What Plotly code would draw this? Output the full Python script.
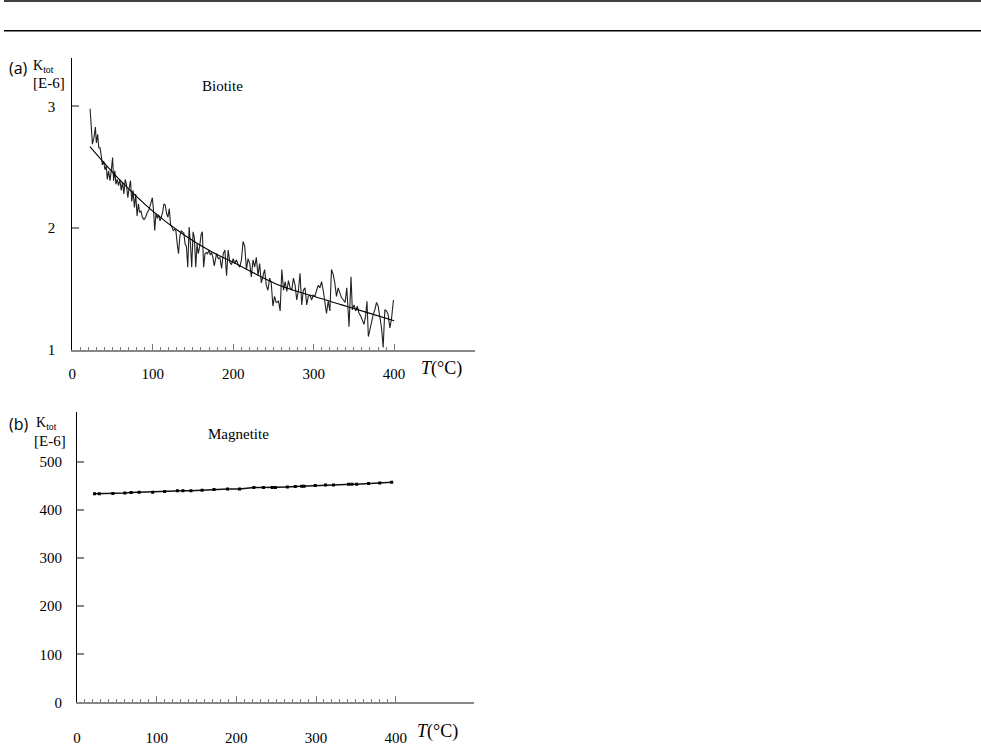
import plotly.graph_objects as go

W, H = 981, 748

# ---------------- data ----------------
biotite_T = [22.2, 23.9, 25.1, 27.2, 28.8, 30.0, 31.6, 33.0, 34.6, 36.2, 37.4, 39.1, 40.7, 42.3, 43.6,
             45.2, 46.9, 48.5, 50.2, 51.4, 53.0, 54.3, 55.9, 57.6, 59.2, 60.9, 62.5, 64.2, 65.8, 67.4,
             69.1, 70.7, 72.4, 74.0, 75.6, 77.3, 78.9, 80.6, 82.2, 83.8, 85.5, 87.1, 89.2, 91.2, 93.3,
             95.4, 97.8, 99.6, 101.2, 102.5, 104.1, 105.8, 107.4, 109.1, 110.7, 112.3, 114.0, 115.6,
             117.3, 118.9, 120.6, 122.2, 123.9, 125.5, 127.2, 128.8, 130.5, 132.1, 133.7, 135.4, 137.0,
             138.7, 140.3, 141.9, 143.6, 145.3, 146.9, 148.5, 150.2, 151.8, 153.5, 155.1, 156.7, 158.4,
             160.0, 161.7, 163.3, 165.0, 166.6, 168.2, 169.9, 171.5, 173.2, 174.8, 176.5, 179.4, 181.5,
             183.5, 185.6, 187.7, 189.7, 191.8, 193.8, 195.9, 197.9, 200.0, 202.1, 204.1, 206.2, 208.2,
             210.3, 212.3, 214.4, 216.5, 218.5, 220.6, 222.6, 224.7, 226.7, 228.8, 230.9, 232.9, 235.0,
             237.0, 239.1, 241.2, 243.2, 245.3, 247.3, 249.4, 251.4, 253.5, 256.4, 258.4, 260.5, 262.6,
             264.6, 266.7, 268.7, 270.8, 272.8, 274.9, 277.0, 279.0, 281.1, 283.1, 285.2, 287.2, 289.3,
             291.4, 293.4, 295.5, 297.5, 299.6, 301.6, 303.7, 305.8, 307.8, 309.9, 311.9, 314.0, 316.0,
             318.1, 320.2, 322.2, 324.3, 326.3, 328.4, 330.5, 332.5, 334.6, 337.0, 339.1, 341.2, 344.0,
             346.5, 348.1, 350.2, 352.3, 354.3, 356.4, 358.4, 360.5, 362.6, 364.6, 366.3, 368.0, 370.0,
             372.0, 374.1, 376.1, 378.2, 380.2, 382.3, 384.4, 386.4, 388.5, 390.5, 392.6, 394.7, 396.7,
             399.2]
biotite_K = [2.98, 2.78, 2.69, 2.75, 2.83, 2.70, 2.77, 2.66, 2.66, 2.59, 2.52, 2.55, 2.48, 2.51, 2.40,
             2.47, 2.39, 2.47, 2.58, 2.39, 2.47, 2.36, 2.40, 2.35, 2.40, 2.31, 2.38, 2.28, 2.40, 2.36,
             2.25, 2.33, 2.39, 2.22, 2.31, 2.17, 2.28, 2.10, 2.20, 2.13, 2.14, 2.09, 2.07, 2.09, 2.13,
             2.15, 2.22, 2.25, 2.13, 1.98, 2.12, 2.08, 2.11, 2.06, 2.09, 2.13, 2.20, 2.19,
             2.12, 2.09, 2.16, 2.03, 2.01, 1.98, 1.99, 1.98, 1.87, 1.79, 1.93, 1.98, 1.97,
             1.96, 1.87, 1.85, 1.68, 2.01, 1.87, 1.68, 1.97, 1.92, 1.68, 1.87, 1.79, 1.85,
             1.94, 1.97, 1.68, 1.79, 1.80, 1.79, 1.82, 1.78, 1.80, 1.76, 1.69, 1.79, 1.75,
             1.76, 1.67, 1.79, 1.82, 1.61, 1.82, 1.72, 1.70, 1.75, 1.71, 1.74, 1.70, 1.68,
             1.74, 1.89, 1.85, 1.66, 1.75, 1.71, 1.60, 1.74, 1.68, 1.76, 1.61, 1.71, 1.55,
             1.60, 1.66, 1.53, 1.49, 1.59, 1.55, 1.36, 1.44, 1.39, 1.40, 1.32, 1.66, 1.49,
             1.56, 1.48, 1.57, 1.51, 1.49, 1.59, 1.53, 1.41, 1.49, 1.63, 1.37, 1.49, 1.51,
             1.37, 1.44, 1.45, 1.41, 1.45, 1.44, 1.49, 1.53, 1.51, 1.56, 1.49, 1.37, 1.30,
             1.40, 1.32, 1.66, 1.62, 1.55, 1.44, 1.51, 1.47, 1.43, 1.41, 1.39, 1.51, 1.19,
             1.60, 1.33, 1.37, 1.32, 1.36, 1.30, 1.28, 1.25, 1.21, 1.28, 1.40, 1.11, 1.18,
             1.24, 1.29, 1.33, 1.39, 1.36, 1.25, 1.18, 1.02, 1.33, 1.32, 1.29, 1.18, 1.25,
             1.41]

fit_T = [22, 60, 100, 140, 175, 200, 254, 300, 335, 370, 400]
fit_K = [2.67, 2.39, 2.14, 1.94, 1.80, 1.72, 1.54, 1.44, 1.37, 1.30, 1.24]

magnetite_T = [22, 28, 45, 60, 68, 78, 95, 110, 126, 133, 143, 157, 172, 189, 204, 222, 234, 245,
               249, 264, 274, 282, 285, 299, 312, 322, 341, 345, 351, 366, 380, 395]
magnetite_K = [433.5, 433.5, 434.2, 435.0, 436.2, 436.9, 436.9, 438.3, 439.6, 439.6, 439.6, 441.0,
               442.4, 443.7, 443.7, 446.5, 446.5, 446.5, 446.5, 447.8, 448.5, 449.2, 449.2, 450.6,
               451.9, 451.9, 453.3, 453.3, 453.3, 454.7, 456.0, 457.4]

x_major = [0, 100, 200, 300, 400]
x_minor = [v for v in range(10, 400, 10) if v % 100]
top_yticks = [1, 2, 3]
bot_yticks = [0, 100, 200, 300, 400, 500]

SERIF = "Liberation Serif, Times New Roman, serif"
SANS = "Open Sans, Noto Sans, sans-serif"


def px(x):
    return x / W


def py(y):
    return 1 - y / H


fig = go.Figure()
fig.add_trace(go.Scatter(x=biotite_T, y=biotite_K, mode="lines",
                         line=dict(color="#222222", width=1.1), xaxis="x", yaxis="y",
                         showlegend=False, hoverinfo="skip"))
fig.add_trace(go.Scatter(x=fit_T, y=fit_K, mode="lines",
                         line=dict(color="#000000", width=1.1, shape="spline"), xaxis="x", yaxis="y",
                         showlegend=False, hoverinfo="skip"))
fig.add_trace(go.Scatter(x=magnetite_T, y=magnetite_K, mode="lines+markers",
                         line=dict(color="#111111", width=1.5),
                         marker=dict(symbol="square", size=3, color="#000000"),
                         xaxis="x2", yaxis="y2", showlegend=False, hoverinfo="skip"))

xcommon = dict(
    tickmode="array", tickvals=x_major, ticktext=[str(v) for v in x_major],
    ticks="inside", ticklen=6, tickwidth=1, tickcolor="#777777",
    minor=dict(tickmode="array", tickvals=x_minor, ticks="inside", ticklen=3,
               tickwidth=1, tickcolor="#777777"),
    showline=True, linecolor="#888888", linewidth=2,
    showgrid=False, zeroline=False, fixedrange=True,
    tickfont=dict(family=SERIF, size=15, color="#000000"),
)
ycommon = dict(
    tickmode="array", ticks="inside", ticklen=7, tickwidth=2, tickcolor="#888888",
    showline=True, linecolor="#000000", linewidth=1,
    showgrid=False, zeroline=False, fixedrange=True,
    tickfont=dict(family=SERIF, size=15, color="#000000"),
)

fig.update_layout(
    width=W, height=H, margin=dict(l=0, r=0, t=0, b=0),
    paper_bgcolor="white", plot_bgcolor="white",
    xaxis=dict(xcommon, domain=[px(68.5), px(473.3)], range=[0, 501], anchor="y",
               ticklabelstandoff=9),
    yaxis=dict(ycommon, domain=[py(353.7), py(58.3)], range=[1, 3.40], anchor="x",
               tickvals=top_yticks, ticktext=[str(v) for v in top_yticks],
               ticklabelstandoff=13),
    xaxis2=dict(xcommon, domain=[px(73.3), px(471.7)], range=[0, 498], anchor="y2",
                ticklabelstandoff=21),
    yaxis2=dict(ycommon, domain=[py(710), py(416.7)], range=[0, 603], anchor="x2",
                tickvals=bot_yticks, ticktext=[str(v) for v in bot_yticks],
                ticklabelstandoff=11),
)

# header rules
for yy in (1, 31):
    fig.add_shape(type="line", xref="paper", yref="paper", x0=0, x1=1, y0=py(yy), y1=py(yy),
                  line=dict(color="#000000", width=1.5))


def ann(text, x, y, size, family, xanchor="left", yanchor="middle"):
    fig.add_annotation(text=text, xref="paper", yref="paper", x=px(x), y=py(y),
                       xanchor=xanchor, yanchor=yanchor, showarrow=False, borderpad=0,
                       font=dict(family=family, size=size, color="#000000"))


for (lab, ty, ky, ey, lx, kx, ex) in (("(a)", 68.5, 67, 84, 4, 28, 28),
                                      ("(b)", 428.5, 428, 446, 4, 31, 29)):
    ann(lab, lx, ty, 16, SANS)
    ann("K<sub>tot</sub>", kx, ky, 14, SERIF)
    ann("[E-6]", ex, ey, 15, SERIF)

ann("Biotite", 198, 86.7, 15, SERIF)
ann("Magnetite", 204, 439, 15, SERIF)
ann("<i>T</i>(°C)", 418, 372, 18, SERIF)
ann("<i>T</i>(°C)", 414, 739, 18, SERIF)

fig.write_html("out.html", config={"displayModeBar": False},
               post_script="document.body.style.margin='0';document.body.style.overflow='hidden';")
